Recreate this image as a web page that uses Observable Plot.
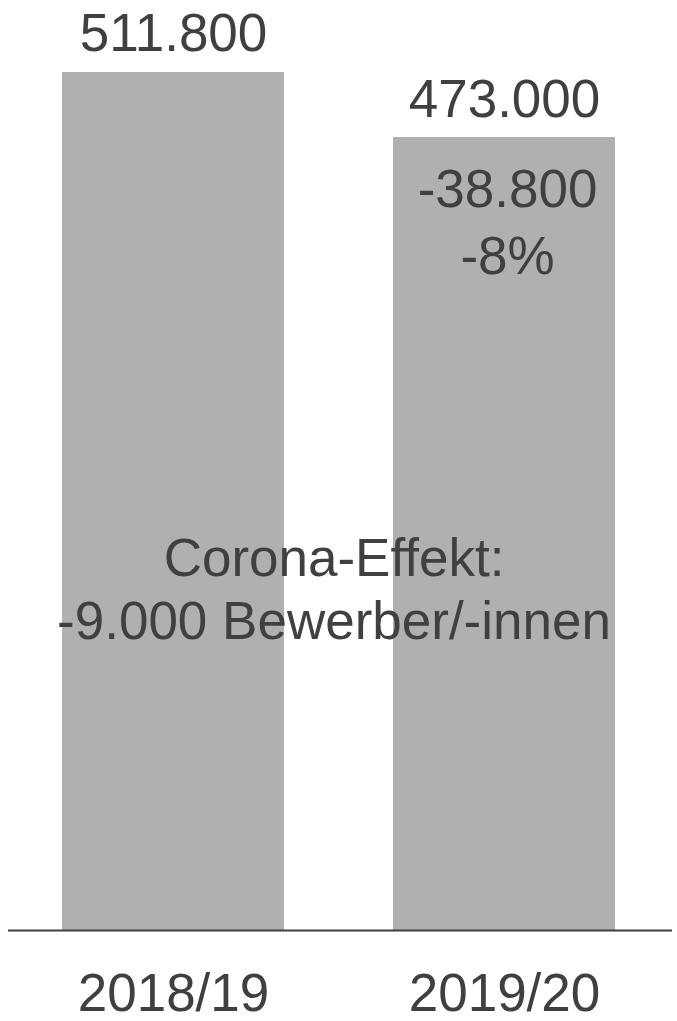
<!DOCTYPE html>
<html>
<head>
<meta charset="utf-8">
<script src="https://cdn.jsdelivr.net/npm/d3@7"></script>
<script src="https://cdn.jsdelivr.net/npm/@observablehq/plot@0.6"></script>
<style>
  html, body { margin: 0; padding: 0; background: #fff; }
  #chart svg { display: block; }
</style>
</head>
<body>
<div id="chart"></div>
<script>
const years = ["2018/19", "2019/20"];
const values = [511800, 473000];
const valueLabels = ["511.800", "473.000"];
const changeLabel = ["-38.800\n-8%"];
const coronaLabel = ["Corona-Effekt:\n-9.000 Bewerber/-innen"];

const data = years.map((y, i) => ({year: y, value: values[i], label: valueLabels[i]}));
const textColor = "#404040";

const chart = Plot.plot({
  width: 677,
  height: 1021,
  marginTop: 72,
  marginBottom: 91,
  marginLeft: 12,
  marginRight: 12,
  style: {fontFamily: "'Liberation Sans', Arial, sans-serif", background: "#fff"},
  x: {domain: years, paddingInner: 0.33, paddingOuter: 0.15, label: null},
  y: {domain: [0, values[0]], nice: false, axis: null},
  marks: [
    Plot.barY(data, {x: "year", y: "value", fill: "#b0b0b0"}),
    Plot.ruleY([0], {stroke: "#404040", strokeWidth: 2, insetLeft: -4, insetRight: -7}),
    Plot.text(data, {x: "year", y: "value", text: "label", dy: -38, fontSize: 53, fill: textColor}),
    Plot.text(changeLabel, {x: () => years[1], y: () => values[1], text: d => d, lineAnchor: "top", dy: 22, dx: 3, fontSize: 53, lineHeight: 1.26, fill: textColor}),
    Plot.text(coronaLabel, {frameAnchor: "middle", text: d => d, dy: 86, dx: -5, fontSize: 53, lineHeight: 1.19, fill: textColor}),
    Plot.axisX({tickSize: 0, tickPadding: 43, fontSize: 53, color: textColor, label: null})
  ]
});
document.getElementById("chart").append(chart);
</script>
</body>
</html>
